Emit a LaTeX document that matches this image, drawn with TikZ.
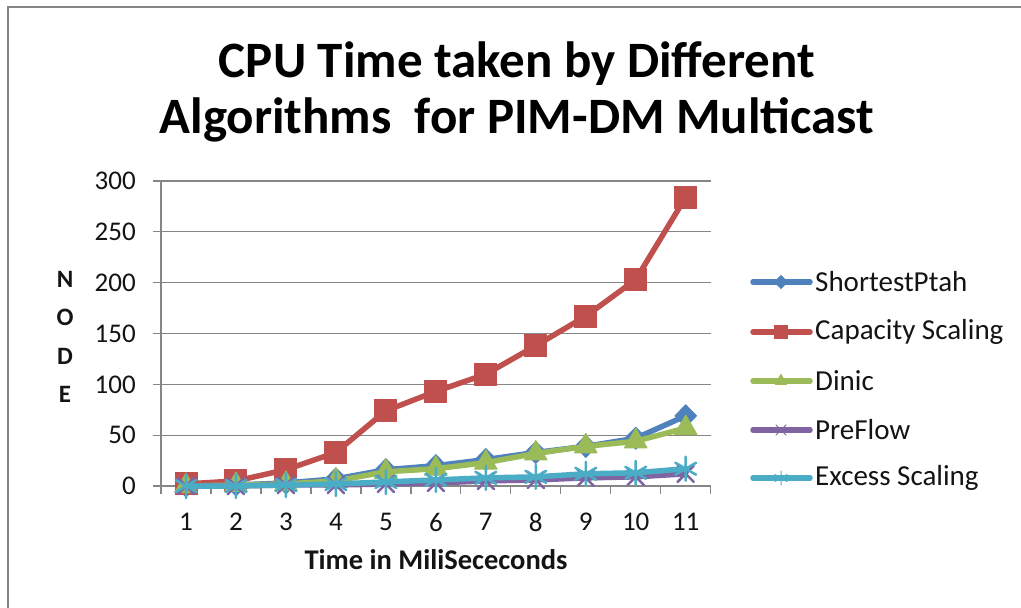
\documentclass[tikz,border=0pt]{standalone}
\usepackage{fontspec}
\setmainfont{Carlito}
\usetikzlibrary{plotmarks}
\definecolor{frameGray}{RGB}{134,134,134}
\definecolor{gridGray}{RGB}{134,134,134}
\definecolor{sBlue}{RGB}{79,129,189}
\definecolor{sRed}{RGB}{192,80,77}
\definecolor{sGreen}{RGB}{155,187,89}
\definecolor{sPurple}{RGB}{128,100,162}
\definecolor{sCyan}{RGB}{75,172,198}
\definecolor{txt}{RGB}{20,20,20}
\begin{document}
\begin{tikzpicture}[x=1pt,y=-1pt,
  frameline/.style={draw=frameGray,line width=2pt},
  gridline/.style={draw=gridGray,line width=1.3pt},
  ticklabel/.style={text=txt,font=\fontsize{27}{30}\selectfont,inner sep=0pt},
  axistitle/.style={text=txt,font=\bfseries\fontsize{28.5}{30}\selectfont,inner sep=0pt},
  legendtext/.style={text=txt,font=\fontsize{29}{30}\selectfont,inner sep=0pt,anchor=west},
  seriesline/.style={line width=5.5pt,line join=round,line cap=round},
  sp/.style={seriesline,draw=sBlue,mark=diamond*,mark size=11pt,
    mark options={solid,fill=sBlue,draw=sBlue,line width=1pt,xscale=1.3}},
  cs/.style={seriesline,draw=sRed,mark=square*,mark size=11pt,
    mark options={solid,fill=sRed,draw=sRed,line width=1pt}},
  di/.style={seriesline,draw=sGreen,mark=triangle*,mark size=13pt,
    mark options={solid,fill=sGreen,draw=sGreen,line width=1pt}},
  pf/.style={seriesline,draw=sPurple,mark=x,mark size=11.5pt,
    mark options={solid,draw=sPurple,line width=2.5pt}},
  es/.style={seriesline,draw=sCyan,mark=asterisk,mark size=12pt,
    mark options={solid,draw=sCyan,line width=2.5pt}},
  legendmark/.style={mark size=6.5pt},
  thinmark/.style={mark size=7pt,mark options={line width=1pt}},
]
\useasboundingbox (0,0) rectangle (1021,608);
\fill[white] (0,0) rectangle (1021,608);

% chart frame (left and top edges)
\draw[frameline] (8,608) -- (8,7) -- (1021,7);

% title
\node[text=black,font=\bfseries\fontsize{51}{56}\selectfont,align=center,inner sep=0pt]
  (title) at (517,92) {CPU Time taken by Different\\Algorithms\ \ for PIM-DM Multicast};

% horizontal gridlines and value axis
\foreach \v in {0,50,100,150,200,250,300}{
  \draw[gridline] (153,{486-1.0167*\v}) -- (710.7,{486-1.0167*\v});
  \node[ticklabel,anchor=east] (ylab\v) at (136,{486-1.0167*\v}) {\v};
}
\draw[gridline] (161,181) -- (161,494);
% category ticks and labels
\foreach \k in {1,...,11}{
  \draw[gridline] ({161+49.97*\k},486) -- ({161+49.97*\k},494);
}
\foreach \k in {1,...,11}{
  \node[ticklabel] (xlab\k) at ({186+49.97*(\k-1)},522) {\k};
}

% axis titles
\node[axistitle] (xtitle) at (436,560) {Time in MiliSececonds};
\node[axistitle,align=center,font=\bfseries\fontsize{25}{38.5}\selectfont] (ytitle) at (65,337) {N\\O\\D\\E};

% data series
\begin{scope}[shift={(186pt,-486pt)},x=49.97pt,y=1.0167pt]
  \draw[sp] plot coordinates {(0,0) (1,1) (2,3) (3,7) (4,16) (5,20) (6,26) (7,33) (8,39) (9,47) (10,69)};
  \draw[cs] plot coordinates {(0,2) (1,5) (2,16) (3,33) (4,74) (5,93) (6,110) (7,138) (8,167) (9,203) (10,284)};
  \draw[di] plot coordinates {(0,0) (1,1) (2,2) (3,5) (4,14) (5,17) (6,23) (7,32) (8,39) (9,44) (10,57)};
  \draw[pf] plot coordinates {(0,0) (1,0) (2,1) (3,1) (4,2) (5,3) (6,5) (7,6) (8,8) (9,9) (10,12)};
  \draw[es] plot coordinates {(0,0) (1,0) (2,1) (3,2) (4,4) (5,6) (6,8) (7,9) (8,12) (9,13) (10,17)};
\end{scope}

% legend
\foreach \st/\yy/\name/\lab/\mk in {sp/282/lgA/ShortestPtah/legendmark,cs/332/lgB/Capacity Scaling/legendmark,di/381/lgC/Dinic/legendmark,pf/430/lgD/PreFlow/thinmark,es/478/lgE/Excess Scaling/thinmark}{
  \draw[\st] (753,\yy) -- (810,\yy);
  \path[\st,\mk] plot coordinates {(781,\yy)};
  \node[legendtext] (\name) at (815,\yy) {\lab};
}
\end{tikzpicture}
\end{document}
